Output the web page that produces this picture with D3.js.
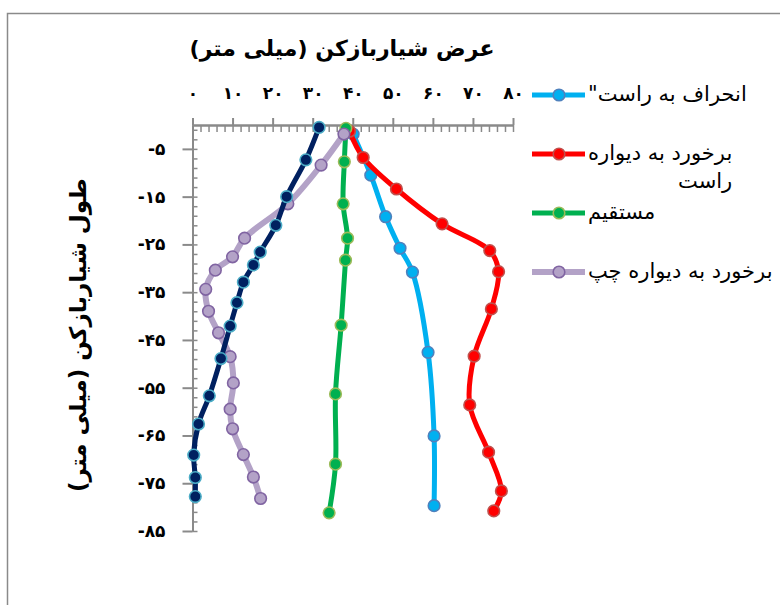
<!DOCTYPE html>
<html>
  <head>
    <meta charset="utf-8">
    <script src="https://cdn.jsdelivr.net/npm/d3@7"></script>
    <style>
      body { margin: 0px; background: #fff; }
      text { font-family: 'DejaVu Sans', sans-serif; }
      .axis .domain { stroke: #8a8a8a; stroke-width: 2px; }
      .axis .tick line { stroke: #8a8a8a; stroke-width: 2px; }
      .axis--minor .tick line { stroke-width: 1.5px; }
      .axis .tick text { fill: #000; font-size: 17px; font-weight: bold; }
      .legend text { font-size: 21px; fill: #000; }
    </style>
  </head>
  <body>
    <svg width="780" height="605"></svg>
    <script>
      // داده ها (عرض و عمق)
      var names = ['سری ۱', 'انحراف به راست"', 'برخورد به دیواره راست', 'مستقیم', 'برخورد به دیواره چپ'];

      var navyX = [31.6, 28.3, 23.5, 20.8, 16.9, 15.2, 12.7, 11.1, 9.4, 7.1, 4.2, 1.5, 0.3, 0.7, 0.7];
      var navyY = [-0.5, -7.3, -15, -21, -26.6, -29.3, -32.9, -37.2, -42.1, -48.9, -56.7, -62.6, -69.1, -73.8, -77.8];

      var blueX = [40.1, 44.5, 48.2, 51.8, 54.9, 58.8, 60.3, 60.3];
      var blueY = [-1.9, -10.5, -19.2, -25.8, -30.8, -47.6, -65.1, -79.7];

      var redX = [39.2, 42.6, 50.9, 62.3, 74.2, 76.4, 74.6, 70.3, 69.2, 73.9, 77.1, 75.2];
      var redY = [-1.3, -6.8, -13.4, -20.7, -26.3, -30.7, -38.5, -48.4, -58.6, -68.5, -76.6, -80.8];

      var greenX = [38.3, 37.9, 37.6, 38.7, 38.2, 37.1, 35.7, 35.7, 34.1];
      var greenY = [-0.7, -7.7, -16.5, -23.7, -28.3, -41.9, -56.3, -71.0, -81.2];

      var purpleX = [37.8, 32.1, 23.8, 13.0, 10.0, 5.7, 3.3, 4.0, 6.5, 9.4, 10.2, 9.4, 10.0, 12.7, 15.2, 17.0];
      var purpleY = [-1.9, -8.4, -16.5, -23.7, -27.6, -30.4, -34.4, -39.0, -43.5, -48.5, -54.0, -59.5, -63.6, -69.0, -73.7, -78.2];

      var xTicks = [0, 10, 20, 30, 40, 50, 60, 70, 80];
      var yTicks = [-5, -15, -25, -35, -45, -55, -65, -75, -85];

      var xTitle = 'عرض شیاربازکن (میلی متر)';
      var yTitle = 'طول شیاربازکن (میلی متر)';

      var svg = d3.select('svg');

      // frame
      svg.append('rect')
        .attr('x', 7.5).attr('y', 13.5)
        .attr('width', 820).attr('height', 700)
        .attr('fill', 'none').attr('stroke', '#8a8a8a').attr('stroke-width', 1.5);

      var xScale = d3.scaleLinear().domain([0, 80]).range([192.5, 513]);
      var yScale = d3.scaleLinear().domain([0, -85]).range([125, 531]);

      var fa = function (d) {
        return String(d).replace(/\d/g, c => '۰۱۲۳۴۵۶۷۸۹'[+c]);
      };

      // top axis
      svg.append('g').attr('class', 'axis axis--minor')
        .attr('transform', 'translate(0,125)')
        .call(d3.axisBottom(xScale).tickValues(d3.range(0, 81, 2)).tickSize(7).tickSizeOuter(0).tickFormat(''));
      svg.append('g').attr('class', 'axis axis--major')
        .attr('transform', 'translate(0,125)')
        .call(d3.axisTop(xScale).tickValues(xTicks).tickSize(7).tickSizeOuter(0).tickPadding(19).tickFormat(fa));

      // left axis
      svg.append('g').attr('class', 'axis axis--minor')
        .attr('transform', 'translate(192.5,0)')
        .call(d3.axisRight(yScale).tickValues(d3.range(-1, -86, -2)).tickSize(5).tickSizeOuter(0).tickFormat(''));
      svg.append('g').attr('class', 'axis axis--major')
        .attr('transform', 'translate(192.5,0)')
        .call(d3.axisLeft(yScale).tickValues(yTicks).tickSize(10).tickSizeOuter(0).tickPadding(17)
          .tickFormat(d => '-' + fa(-d)));
      svg.selectAll('.axis .tick text').attr('direction', 'ltr');

      // series
      var series = [
        { xs: blueX, ys: blueY, line: '#00b0f0', fill: '#00b0f0', edge: '#4f81bd', w: 5 },
        { xs: redX, ys: redY, line: '#ff0000', fill: '#ff0000', edge: '#c0504d', w: 5 },
        { xs: greenX, ys: greenY, line: '#00b050', fill: '#00b050', edge: '#9bbb59', w: 5 },
        { xs: purpleX, ys: purpleY, line: '#b3a2c7', fill: '#b3a2c7', edge: '#8064a2', w: 6 },
        { xs: navyX, ys: navyY, line: '#002060', fill: '#002060', edge: '#4bacc6', w: 5 }
      ];

      var line = d3.line()
        .x(d => xScale(d[0]))
        .y(d => yScale(d[1]))
        .curve(d3.curveCatmullRom.alpha(0.5));

      series.forEach(function (s) {
        var pts = s.xs.map((v, i) => [v, s.ys[i]]);
        var g = svg.append('g');
        g.append('path')
          .attr('d', line(pts))
          .attr('fill', 'none')
          .attr('stroke', s.line)
          .attr('stroke-width', s.w)
          .attr('stroke-linejoin', 'round');
        g.selectAll('circle').data(pts).enter().append('circle')
          .attr('cx', d => xScale(d[0]))
          .attr('cy', d => yScale(d[1]))
          .attr('r', 5.8)
          .attr('fill', s.fill)
          .attr('stroke', s.edge)
          .attr('stroke-width', 1.6);
      });

      // titles
      svg.append('text')
        .attr('x', 342).attr('y', 56)
        .attr('text-anchor', 'middle')
        .attr('direction', 'rtl')
        .style('font-size', '22px').style('font-weight', 'bold')
        .text(xTitle);
      svg.append('text')
        .attr('transform', 'translate(86,335) rotate(-90)')
        .attr('text-anchor', 'middle')
        .attr('direction', 'rtl')
        .style('font-size', '23px').style('font-weight', 'bold')
        .text(yTitle);

      // legend
      var legend = svg.append('g').attr('class', 'legend');
      var legendItems = [
        { s: series[0], y: 95, lines: [names[1]] },
        { s: series[1], y: 154, lines: ['برخورد به دیواره', 'راست'] },
        { s: series[2], y: 213, lines: [names[3]] },
        { s: series[3], y: 272, lines: [names[4]] }
      ];
      legendItems.forEach(function (it) {
        legend.append('line')
          .attr('x1', 532).attr('x2', 585)
          .attr('y1', it.y).attr('y2', it.y)
          .attr('stroke', it.s.line).attr('stroke-width', it.s.w);
        legend.append('circle')
          .attr('cx', 559).attr('cy', it.y).attr('r', 5.8)
          .attr('fill', it.s.fill).attr('stroke', it.s.edge).attr('stroke-width', 1.6);
        var first = legend.append('text')
          .attr('x', 588).attr('y', it.y + 6)
          .attr('direction', 'rtl')
          .attr('text-anchor', 'end')
          .text(it.lines[0]);
        if (it.lines.length > 1) {
          var right = 588 + first.node().getComputedTextLength();
          legend.append('text')
            .attr('x', right).attr('y', it.y + 34)
            .attr('direction', 'rtl')
            .attr('text-anchor', 'start')
            .text(it.lines[1]);
        }
      });
    </script>
  </body>
</html>
